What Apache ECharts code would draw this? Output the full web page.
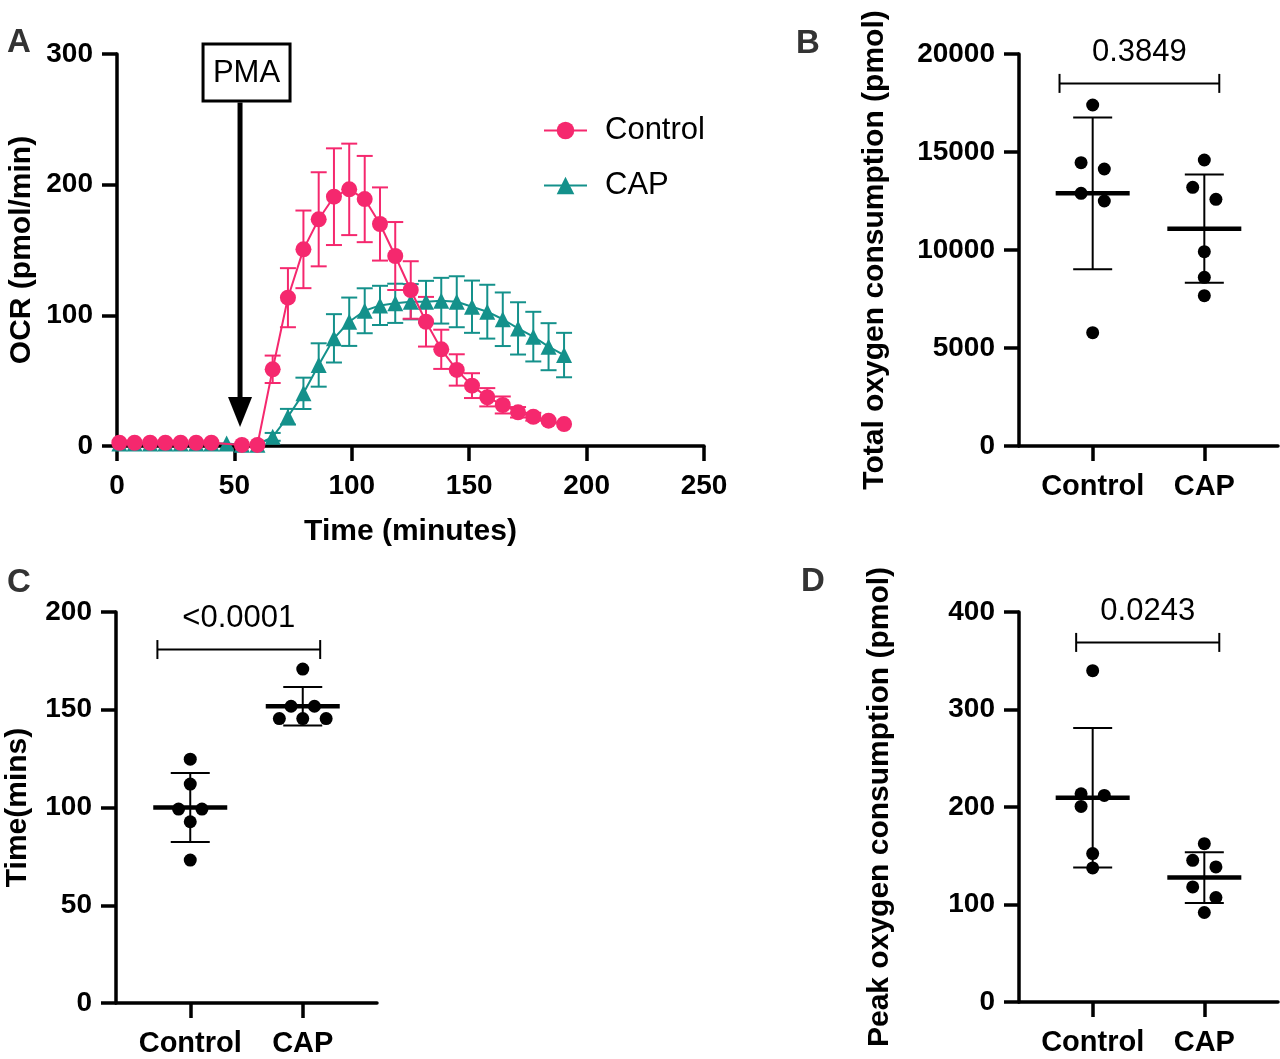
<!DOCTYPE html>
<html><head><meta charset="utf-8">
<script src="https://cdn.jsdelivr.net/npm/echarts@6/dist/echarts.min.js"></script>
<style>html,body{margin:0;padding:0;background:#fff}#c{width:1280px;height:1059px}</style>
</head><body><div id="c"></div>
<script>
// ---------- Panel A data ----------
const timeMin = [1, 7.5, 14.1, 20.6, 27.1, 33.7, 40.2, 46.7, 53.2, 59.8, 66.3, 72.8, 79.4, 85.9, 92.4, 98.9, 105.5, 112.0, 118.5, 125.1, 131.6, 138.1, 144.7, 151.2, 157.7, 164.3, 170.8, 177.3, 183.8, 190.4];
const controlOCR = [2.5, 2.5, 2.5, 2.5, 2.5, 2.5, 2.5, null, 0.8, 0.8, 58.7, 113.5, 150.5, 173.5, 190.8, 196.4, 189, 169.9, 145.4, 119.4, 95.1, 74, 58.2, 46.2, 37.3, 31.4, 25.8, 22.4, 19.4, 16.8];
const controlErr = [0, 0, 0, 0, 0, 0, 0, null, 0, 0, 10.5, 22.6, 29.7, 36, 37, 35, 33, 28, 26, 22, 19, 15, 12, 9.5, 7, 6.5, 4, 3, 2, 2];
const capOCR = [2, 2, 2, 2, 2, 2, 2, 2, 1, 1, 7, 22.4, 40.3, 62, 82.4, 95.1, 103.5, 107.6, 109.2, 110.4, 110.4, 111.2, 110.4, 106.6, 102.8, 97, 90, 83.7, 76, 69.6];
const capErr = [0, 0, 0, 0, 0, 0, 0, 0, 0, 0, 3, 6, 12, 16.6, 18.5, 18.5, 17.2, 15, 15, 13.5, 16, 17.5, 19.5, 20, 20.6, 20.5, 20, 19, 18, 17];
const pmaTime = 52.4;
const pmaLabel = 'PMA';

// ---------- Dot-plot data ----------
const groups = ['Control', 'CAP'];
const totalControl = [17398, 14455, 14133, 12891, 12500, 5781];
const totalCAP = [14592, 13197, 12585, 9915, 8605, 7670];
const totalJitterControl = [0, -1, 1, -1, 1, 0];
const totalJitterCAP = [0, -1, 1, 0, 0, 0];
const totalMean = [12891, 11088];
const totalSD = [3870, 2760];
const totalP = '0.3849';

const timeControl = [124.7, 112, 99.2, 99.2, 92.7, 73.1];
const timeCAP = [170.8, 151.8, 151.8, 145.5, 145.5, 145.5];
const timeJitterControl = [0, 0, -1, 1, 0, 0];
const timeJitterCAP = [0, -1, 1, -2, 0, 2];
const timeMean = [100, 151.8];
const timeSD = [17.6, 9.9];
const timeP = '<0.0001';

const peakControl = [339.8, 213.6, 211.9, 200.6, 152.2, 137.5];
const peakCAP = [162.4, 145.3, 138.5, 118, 107.2, 91.8];
const peakJitterControl = [0, -1, 1, -1, 0, 0];
const peakJitterCAP = [0, -1, 1, -1, 1, 0];
const peakMean = [209.5, 127.6];
const peakSD = [71.5, 26.1];
const peakP = '0.0243';

// bracket: [x start, x end, y level]
const bracketB = [0.703, 2.134, 18500];
const bracketC = [0.708, 2.155, 180.8];
const bracketD = [0.852, 2.134, 368.8];

// ---------- styling ----------
const FONT = 'Liberation Sans, Arial, Helvetica, sans-serif';
const PINK = '#f5286e';
const TEAL = '#14918b';
const AXW = 3.5;
const JIT = 0.104;

const chart = echarts.init(document.getElementById('c'), null, {renderer: 'canvas'});

function axisCommon() {
  return {
    axisLine: {show: true, onZero: false, lineStyle: {color: '#000', width: AXW}},
    axisTick: {show: true, length: 15, lineStyle: {color: '#000', width: AXW}},
    splitLine: {show: false},
    axisLabel: {color: '#000', fontSize: 28, fontWeight: 'bold', fontFamily: FONT, margin: 24,
      formatter: (v) => String(v)}
  };
}
function nameStyle() {
  return {color: '#000', fontSize: 30, fontWeight: 'bold', fontFamily: FONT};
}

function errItem(color) {
  return function (params, api) {
    const x = api.value(0), lo = api.value(1), hi = api.value(2);
    if (isNaN(lo) || hi - lo < 6) return null;
    const a = api.coord([x, hi]), b = api.coord([x, lo]);
    const st = {stroke: color, lineWidth: 2};
    return {type: 'group', children: [
      {type: 'line', shape: {x1: a[0], y1: a[1], x2: b[0], y2: b[1]}, style: st},
      {type: 'line', shape: {x1: a[0] - 8, y1: a[1], x2: a[0] + 8, y2: a[1]}, style: st},
      {type: 'line', shape: {x1: b[0] - 8, y1: b[1], x2: b[0] + 8, y2: b[1]}, style: st}
    ]};
  };
}

function meanSdItem(params, api) {
  const x = api.value(0), m = api.value(1), s = api.value(2);
  const c = api.coord([x, m]), hi = api.coord([x, m + s]), lo = api.coord([x, m - s]);
  const st = {stroke: '#000', lineWidth: 2};
  return {type: 'group', children: [
    {type: 'line', shape: {x1: c[0], y1: hi[1], x2: c[0], y2: lo[1]}, style: st},
    {type: 'line', shape: {x1: c[0] - 19.5, y1: hi[1], x2: c[0] + 19.5, y2: hi[1]}, style: st},
    {type: 'line', shape: {x1: c[0] - 19.5, y1: lo[1], x2: c[0] + 19.5, y2: lo[1]}, style: st},
    {type: 'line', shape: {x1: c[0] - 37, y1: c[1], x2: c[0] + 37, y2: c[1]}, style: {stroke: '#000', lineWidth: 4.5}}
  ]};
}

function bracketItem(label) {
  return function (params, api) {
    const a = api.coord([api.value(0), api.value(2)]);
    const b = api.coord([api.value(1), api.value(2)]);
    const st = {stroke: '#000', lineWidth: 2};
    return {type: 'group', children: [
      {type: 'line', shape: {x1: a[0], y1: a[1], x2: b[0], y2: b[1]}, style: st},
      {type: 'line', shape: {x1: a[0], y1: a[1] - 9.5, x2: a[0], y2: a[1] + 9.5}, style: st},
      {type: 'line', shape: {x1: b[0], y1: b[1] - 9.5, x2: b[0], y2: b[1] + 9.5}, style: st},
      {type: 'text', style: {x: (a[0] + b[0]) / 2, y: a[1] - 31, text: label, fill: '#000',
        font: '31px ' + FONT, align: 'center', verticalAlign: 'middle'}}
    ]};
  };
}

function pmaItem(params, api) {
  const top = api.coord([api.value(0), 300]);
  const zero = api.coord([api.value(0), 0]);
  const x = top[0];
  const boxTop = top[1] - 10, boxBot = top[1] + 47;
  const tipY = zero[1] - 19;
  return {type: 'group', children: [
    {type: 'rect', shape: {x: x - 37, y: boxTop, width: 87, height: 57}, style: {fill: '#fff', stroke: '#000', lineWidth: 3}},
    {type: 'text', style: {x: x + 6.5, y: (boxTop + boxBot) / 2 + 1, text: pmaLabel, fill: '#000', font: '31px ' + FONT, align: 'center', verticalAlign: 'middle'}},
    {type: 'line', shape: {x1: x, y1: boxBot + 1.5, x2: x, y2: tipY - 28}, style: {stroke: '#000', lineWidth: 5}},
    {type: 'polygon', shape: {points: [[x - 12, tipY - 30], [x + 12, tipY - 30], [x, tipY]]}, style: {fill: '#000'}}
  ]};
}

function dots(vals, jit, g) {
  return vals.map((v, i) => [g + 1 + jit[i] * JIT, v]);
}
function msData(mean, sd) {
  return mean.map((m, i) => [i + 1, m, sd[i]]);
}

const catAxisX = (gi) => Object.assign(axisCommon(), {
  type: 'value', gridIndex: gi, min: 0.34, max: 2.66,
  axisTick: {show: true, length: 15, lineStyle: {color: '#000', width: AXW}, customValues: [1, 2]},
  axisLabel: {color: '#000', fontSize: 29, fontWeight: 'bold', fontFamily: FONT, margin: 26,
    customValues: [1, 2], formatter: (v) => groups[Math.round(v) - 1] || ''}
});

const letterStyle = {fontSize: 33, fontWeight: 'bold', color: '#333', fontFamily: FONT};
const xA = axisCommon();
xA.axisLabel.margin = 26;
const option = {
  animation: false,
  backgroundColor: '#fff',
  title: [
    {text: 'A', left: 7, top: 26, padding: 0, textStyle: letterStyle},
    {text: 'B', left: 796, top: 27, padding: 0, textStyle: letterStyle},
    {text: 'C', left: 7, top: 566, padding: 0, textStyle: letterStyle},
    {text: 'D', left: 801, top: 565, padding: 0, textStyle: letterStyle}
  ],
  legend: {
    orient: 'vertical', left: 538, top: 110, itemWidth: 43, itemHeight: 22, itemGap: 24,
    data: ['Control', 'CAP'],
    textStyle: {fontSize: 31, color: '#000', fontFamily: FONT, padding: [0, 0, 0, 13]}
  },
  grid: [
    {left: 117, top: 54, width: 587, height: 392},
    {left: 1019, top: 54, width: 259, height: 392},
    {left: 116, top: 612, width: 261, height: 391},
    {left: 1019, top: 612, width: 259, height: 390}
  ],
  xAxis: [
    Object.assign(xA, {type: 'value', gridIndex: 0, min: 0, max: 250, interval: 50,
      name: 'Time (minutes)', nameLocation: 'middle', nameGap: 71, nameTextStyle: nameStyle()}),
    catAxisX(1), catAxisX(2), catAxisX(3)
  ],
  yAxis: [
    Object.assign(axisCommon(), {type: 'value', gridIndex: 0, min: 0, max: 300, interval: 100,
      name: 'OCR (pmol/min)', nameLocation: 'middle', nameGap: 80, nameTextStyle: nameStyle()}),
    Object.assign(axisCommon(), {type: 'value', gridIndex: 1, min: 0, max: 20000, interval: 5000,
      name: 'Total oxygen consumption (pmol)', nameLocation: 'middle', nameGap: 129, nameTextStyle: nameStyle()}),
    Object.assign(axisCommon(), {type: 'value', gridIndex: 2, min: 0, max: 200, interval: 50,
      name: 'Time(mins)', nameLocation: 'middle', nameGap: 83, nameTextStyle: nameStyle()}),
    Object.assign(axisCommon(), {type: 'value', gridIndex: 3, min: 0, max: 400, interval: 100,
      name: 'Peak oxygen consumption (pmol)', nameLocation: 'middle', nameGap: 124, nameTextStyle: nameStyle()})
  ],
  series: [
    // Panel A error bars
    {type: 'custom', name: 'capErr', xAxisIndex: 0, yAxisIndex: 0, z: 2,
      renderItem: errItem(TEAL), encode: {x: 0, y: [1, 2]},
      data: timeMin.map((t, i) => [t, capOCR[i] - capErr[i], capOCR[i] + capErr[i]])},
    {type: 'custom', name: 'ctlErr', xAxisIndex: 0, yAxisIndex: 0, z: 2,
      renderItem: errItem(PINK), encode: {x: 0, y: [1, 2]},
      data: timeMin.map((t, i) => controlOCR[i] == null ? [t, null, null] : [t, controlOCR[i] - controlErr[i], controlOCR[i] + controlErr[i]])},
    {type: 'line', name: 'CAP', xAxisIndex: 0, yAxisIndex: 0, z: 3,
      data: timeMin.map((t, i) => [t, capOCR[i]]),
      symbol: 'triangle', symbolSize: 16, showSymbol: true, showAllSymbol: true,
      itemStyle: {color: TEAL, opacity: 1}, lineStyle: {color: TEAL, width: 2}},
    {type: 'line', name: 'Control', xAxisIndex: 0, yAxisIndex: 0, z: 4, connectNulls: true,
      data: timeMin.map((t, i) => [t, controlOCR[i]]),
      symbol: 'circle', symbolSize: 16, showSymbol: true, showAllSymbol: true,
      itemStyle: {color: PINK, opacity: 1}, lineStyle: {color: PINK, width: 2}},
    {type: 'custom', name: 'pma', xAxisIndex: 0, yAxisIndex: 0, z: 5, clip: false,
      renderItem: pmaItem, data: [[pmaTime]], encode: {x: 0}},

    // Panel B
    {type: 'custom', xAxisIndex: 1, yAxisIndex: 1, z: 2, renderItem: meanSdItem, data: msData(totalMean, totalSD), encode: {x: 0, y: 1}},
    {type: 'scatter', xAxisIndex: 1, yAxisIndex: 1, z: 3, symbolSize: 13, itemStyle: {color: '#000', opacity: 1},
      data: dots(totalControl, totalJitterControl, 0).concat(dots(totalCAP, totalJitterCAP, 1))},
    {type: 'custom', xAxisIndex: 1, yAxisIndex: 1, z: 3, clip: false, renderItem: bracketItem(totalP), data: [bracketB], encode: {x: [0, 1], y: 2}},

    // Panel C
    {type: 'custom', xAxisIndex: 2, yAxisIndex: 2, z: 2, renderItem: meanSdItem, data: msData(timeMean, timeSD), encode: {x: 0, y: 1}},
    {type: 'scatter', xAxisIndex: 2, yAxisIndex: 2, z: 3, symbolSize: 13, itemStyle: {color: '#000', opacity: 1},
      data: dots(timeControl, timeJitterControl, 0).concat(dots(timeCAP, timeJitterCAP, 1))},
    {type: 'custom', xAxisIndex: 2, yAxisIndex: 2, z: 3, clip: false, renderItem: bracketItem(timeP), data: [bracketC], encode: {x: [0, 1], y: 2}},

    // Panel D
    {type: 'custom', xAxisIndex: 3, yAxisIndex: 3, z: 2, renderItem: meanSdItem, data: msData(peakMean, peakSD), encode: {x: 0, y: 1}},
    {type: 'scatter', xAxisIndex: 3, yAxisIndex: 3, z: 3, symbolSize: 13, itemStyle: {color: '#000', opacity: 1},
      data: dots(peakControl, peakJitterControl, 0).concat(dots(peakCAP, peakJitterCAP, 1))},
    {type: 'custom', xAxisIndex: 3, yAxisIndex: 3, z: 3, clip: false, renderItem: bracketItem(peakP), data: [bracketD], encode: {x: [0, 1], y: 2}}
  ]
};
chart.setOption(option);
</script>
</body></html>
